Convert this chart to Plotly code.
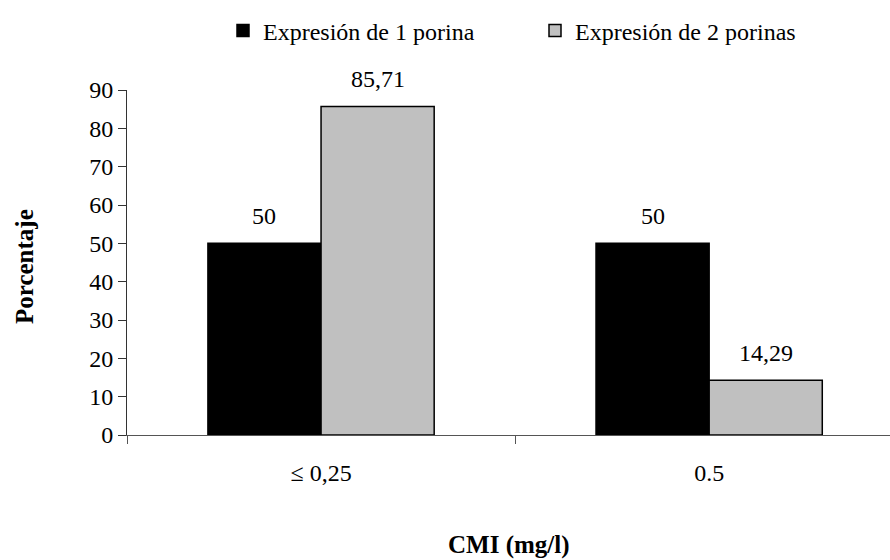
import plotly.graph_objects as go

categories = ["≤ 0,25", "0.5"]
series_names = ["Expresión de 1 porina", "Expresión de 2 porinas"]
values_1 = [50, 50]
values_2 = [85.71, 14.29]
colors = ["#000000", "#C0C0C0"]
y_ticks = list(range(0, 91, 10))

FONT = "Liberation Serif"
FS = 24
FSB = 25
BARGAP = 0.417

def fmt(v):
    return f"{v:g}".replace(".", ",")

fig = go.Figure()
for name, vals, col in zip(series_names, [values_1, values_2], colors):
    fig.add_trace(go.Bar(
        x=categories, y=vals, name=name,
        marker=dict(color=col, line=dict(color="#000000", width=1.5)),
        hoverinfo="skip",
    ))

# data labels above bars
bw = (1 - BARGAP) / 2
for si, vals in enumerate([values_1, values_2]):
    off = (si - 0.5) * bw
    for ci, v in enumerate(vals):
        fig.add_annotation(
            x=ci + off, y=v, xref="x", yref="y", text=fmt(v),
            showarrow=False, yanchor="bottom", yshift=12,
            font=dict(family=FONT, size=FS, color="#000000"),
        )

fig.add_annotation(
    x=(509 - 127) / 763, y=-(545 - 435) / 345, xref="paper", yref="paper",
    text="<b>CMI (mg/l)</b>", showarrow=False, yanchor="middle", xanchor="center",
    font=dict(family=FONT, size=FSB, color="#000000"),
)
fig.add_annotation(
    x=(24 - 127) / 763, y=(435 - 267) / 345, xref="paper", yref="paper",
    text="<b>Porcentaje</b>", showarrow=False, textangle=-90,
    yanchor="middle", xanchor="center",
    font=dict(family=FONT, size=FSB, color="#000000"),
)

fig.update_layout(
    width=890, height=560,
    margin=dict(l=127, r=0, t=90, b=125),
    paper_bgcolor="white", plot_bgcolor="white",
    barmode="group", bargap=BARGAP, bargroupgap=0,
    font=dict(family=FONT, size=FS, color="#000000"),
    showlegend=True,
    legend=dict(
        orientation="h", xref="container", yref="container",
        x=223 / 890, y=1 - 31 / 560, xanchor="left", yanchor="middle",
        entrywidth=267, entrywidthmode="pixels",
        font=dict(family=FONT, size=FS, color="#000000"),
        bgcolor="rgba(0,0,0,0)",
    ),
    xaxis=dict(
        type="category", range=[-0.5, 1.466],
        showline=True, linecolor="#555555", linewidth=1,
        ticks="outside", tickson="boundaries", ticklen=8, tickcolor="#555555",
        showgrid=False, zeroline=False, ticklabelstandoff=16,
        tickfont=dict(family=FONT, size=FS, color="#000000"),
    ),
    yaxis=dict(
        range=[0, 90], tickvals=y_ticks,
        showline=True, linecolor="#333333", linewidth=1,
        ticks="outside", ticklen=8, tickcolor="#333333",
        showgrid=False, zeroline=False,
        tickfont=dict(family=FONT, size=FS, color="#000000"),
    ),
)

fig.write_html("out.html")
